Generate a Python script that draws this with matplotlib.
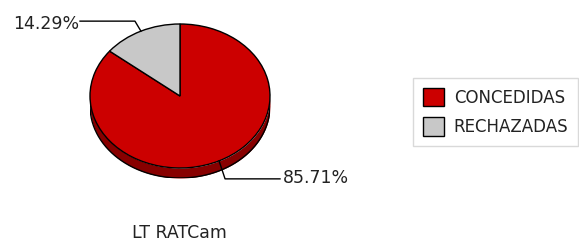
import numpy as np
import matplotlib
matplotlib.use("Agg")
import matplotlib.pyplot as plt
from matplotlib.patches import Patch

labels = ["CONCEDIDAS", "RECHAZADAS"]
values = [85.71, 14.29]
pct_labels = ["85.71%", "14.29%"]
colors = ["#cc0000", "#c8c8c8"]
side_color = "#880000"
title = "LT RATCam"

W, H = 579, 242
fig = plt.figure(figsize=(W / 100, H / 100), dpi=100)

# pie geometry in pixels (top-left origin)
cx, cy = 180, 96
rx, ry = 90, 72
depth = 10
d = depth / ry

def fig_box(x0, y0, x1, y1):
    return [x0 / W, 1 - y1 / H, (x1 - x0) / W, (y1 - y0) / H]

ax = fig.add_axes(fig_box(cx - rx, cy - ry, cx + rx, cy + ry + depth))

# side of the "3D" disc
xs = np.linspace(-1, 1, 400)
ytop = -np.sqrt(1 - xs ** 2)
ax.fill_between(xs, ytop - d, ytop, color=side_color, lw=0, zorder=1)
ax.plot(xs, ytop - d, color="black", lw=1, zorder=2)
ax.plot([-1, -1], [0, -d], color="black", lw=1, zorder=2)
ax.plot([1, 1], [0, -d], color="black", lw=1, zorder=2)

wedges, _ = ax.pie(values, colors=colors, startangle=90, counterclock=False,
                   wedgeprops=dict(edgecolor="black", linewidth=1))
for w in wedges:
    w.set_zorder(3)
ax.set_aspect("auto")
ax.set_xlim(-1, 1)
ax.set_ylim(-1 - d, 1)
ax.axis("off")

# overlay in pixel coords for labels
ov = fig.add_axes([0, 0, 1, 1], zorder=5)
ov.set_xlim(0, W)
ov.set_ylim(H, 0)
ov.axis("off")

def edge_point(frac_mid):
    ang = np.deg2rad(90 - 360 * frac_mid)
    return cx + rx * np.cos(ang), cy - ry * np.sin(ang)

total = sum(values)
fr = np.cumsum([0] + values) / total
txt_kw = dict(fontsize=12.5, color="#222222", family="DejaVu Sans")

# grey slice label (upper left)
ax_, ay_ = edge_point((fr[1] + fr[2]) / 2)
ex, ey = ax_ - 6, ay_ - 10
ov.plot([ax_, ex, 80], [ay_, ey, ey], color="black", lw=1)
ov.text(79, ey + 8, pct_labels[1], ha="right", va="baseline", **txt_kw)

# red slice label (lower right)
bx, by = edge_point((fr[0] + fr[1]) / 2)
ex, ey = bx + 6, by + 18
ov.plot([bx, ex, 280], [by, ey, ey], color="black", lw=1)
ov.text(283, ey + 4, pct_labels[0], ha="left", va="baseline", **txt_kw)

ov.text(179, 238, title, ha="center", va="baseline", **txt_kw)

handles = [Patch(facecolor=c, edgecolor="black", linewidth=1) for c in colors]
leg = fig.legend(handles, labels, loc="upper left",
                 bbox_to_anchor=(413 / W, 1 - 78 / H), frameon=True,
                 fancybox=False, edgecolor="#d0d0d0", fontsize=12,
                 handlelength=1.25, handleheight=1.3, handletextpad=0.6,
                 labelspacing=0.65, borderpad=0.6, borderaxespad=0)
for t in leg.get_texts():
    t.set_color("#222222")

fig.savefig("out.png", dpi=100)
